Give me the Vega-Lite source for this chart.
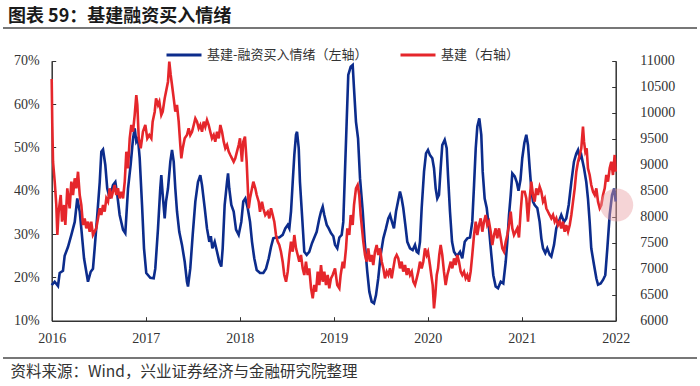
{
"$schema": "https://vega.github.io/schema/vega-lite/v6.json",
"width": 694,
"height": 330,
"autosize": {"type": "none"},
"padding": {"left": 3, "top": 28, "right": 3, "bottom": 28},
"background": "#ffffff",
"title": {"text": "图表 59：基建融资买入情绪", "anchor": "start", "frame": "group", "dx": 5, "dy": 19, "offset": 3, "baseline": "bottom", "font": "Noto Sans CJK SC", "fontSize": 18, "fontWeight": "bold", "color": "#1a1a1a"},
"config": {
  "view": {"stroke": "#777777", "strokeWidth": 2, "strokeDash": [694, 330, 694, 330]},
  "axis": {"grid": false, "domainColor": "#333333", "domainWidth": 1.5, "tickColor": "#333333", "tickWidth": 1, "tickSize": -4, "labelFont": "Liberation Serif", "labelFontSize": 14, "labelColor": "#333333"}
},
"datasets": {
"ref": [{"v":0.4},{"v":0.2}],
"hl": [{"t":2022.01,"v":8225}],
"blue": [
{"t":2016.000,"v":0.182},{"t":2016.032,"v":0.190},{"t":2016.067,"v":0.180},{"t":2016.085,"v":0.210},{"t":2016.120,"v":0.215},{"t":2016.138,"v":0.250},{"t":2016.173,"v":0.270},{"t":2016.209,"v":0.298},{"t":2016.245,"v":0.328},{"t":2016.272,"v":0.382},{"t":2016.298,"v":0.352},{"t":2016.315,"v":0.313},{"t":2016.344,"v":0.244},{"t":2016.368,"v":0.213},{"t":2016.386,"v":0.190},{"t":2016.415,"v":0.213},{"t":2016.439,"v":0.220},{"t":2016.457,"v":0.267},{"t":2016.485,"v":0.344},{"t":2016.511,"v":0.420},{"t":2016.528,"v":0.490},{"t":2016.546,"v":0.495},{"t":2016.570,"v":0.460},{"t":2016.591,"v":0.405},{"t":2016.617,"v":0.382},{"t":2016.652,"v":0.413},{"t":2016.677,"v":0.420},{"t":2016.698,"v":0.390},{"t":2016.723,"v":0.344},{"t":2016.759,"v":0.310},{"t":2016.783,"v":0.302},{"t":2016.812,"v":0.405},{"t":2016.840,"v":0.460},{"t":2016.865,"v":0.520},{"t":2016.883,"v":0.544},{"t":2016.900,"v":0.513},{"t":2016.918,"v":0.520},{"t":2016.936,"v":0.475},{"t":2016.961,"v":0.367},{"t":2016.982,"v":0.267},{"t":2017.006,"v":0.210},{"t":2017.049,"v":0.199},{"t":2017.085,"v":0.198},{"t":2017.102,"v":0.220},{"t":2017.131,"v":0.313},{"t":2017.155,"v":0.405},{"t":2017.166,"v":0.436},{"t":2017.181,"v":0.390},{"t":2017.202,"v":0.336},{"t":2017.216,"v":0.375},{"t":2017.237,"v":0.405},{"t":2017.262,"v":0.467},{"t":2017.280,"v":0.494},{"t":2017.298,"v":0.467},{"t":2017.315,"v":0.405},{"t":2017.333,"v":0.352},{"t":2017.357,"v":0.305},{"t":2017.386,"v":0.275},{"t":2017.415,"v":0.236},{"t":2017.439,"v":0.190},{"t":2017.450,"v":0.179},{"t":2017.474,"v":0.220},{"t":2017.500,"v":0.298},{"t":2017.528,"v":0.375},{"t":2017.556,"v":0.420},{"t":2017.581,"v":0.436},{"t":2017.599,"v":0.413},{"t":2017.628,"v":0.360},{"t":2017.652,"v":0.313},{"t":2017.677,"v":0.282},{"t":2017.693,"v":0.295},{"t":2017.709,"v":0.267},{"t":2017.734,"v":0.282},{"t":2017.759,"v":0.259},{"t":2017.783,"v":0.236},{"t":2017.804,"v":0.225},{"t":2017.819,"v":0.267},{"t":2017.840,"v":0.367},{"t":2017.865,"v":0.420},{"t":2017.876,"v":0.440},{"t":2017.889,"v":0.405},{"t":2017.911,"v":0.367},{"t":2017.936,"v":0.352},{"t":2017.961,"v":0.310},{"t":2017.989,"v":0.298},{"t":2018.017,"v":0.328},{"t":2018.038,"v":0.375},{"t":2018.060,"v":0.382},{"t":2018.085,"v":0.360},{"t":2018.110,"v":0.328},{"t":2018.131,"v":0.282},{"t":2018.155,"v":0.244},{"t":2018.181,"v":0.217},{"t":2018.216,"v":0.210},{"t":2018.251,"v":0.210},{"t":2018.280,"v":0.220},{"t":2018.309,"v":0.244},{"t":2018.333,"v":0.270},{"t":2018.357,"v":0.290},{"t":2018.386,"v":0.292},{"t":2018.421,"v":0.292},{"t":2018.457,"v":0.298},{"t":2018.485,"v":0.313},{"t":2018.511,"v":0.321},{"t":2018.528,"v":0.313},{"t":2018.546,"v":0.352},{"t":2018.564,"v":0.420},{"t":2018.581,"v":0.482},{"t":2018.599,"v":0.529},{"t":2018.610,"v":0.536},{"t":2018.628,"v":0.498},{"t":2018.641,"v":0.420},{"t":2018.663,"v":0.344},{"t":2018.687,"v":0.259},{"t":2018.713,"v":0.252},{"t":2018.740,"v":0.259},{"t":2018.769,"v":0.279},{"t":2018.794,"v":0.292},{"t":2018.819,"v":0.305},{"t":2018.847,"v":0.336},{"t":2018.865,"v":0.352},{"t":2018.883,"v":0.363},{"t":2018.900,"v":0.344},{"t":2018.926,"v":0.321},{"t":2018.947,"v":0.313},{"t":2018.971,"v":0.302},{"t":2018.996,"v":0.295},{"t":2019.014,"v":0.275},{"t":2019.038,"v":0.267},{"t":2019.060,"v":0.292},{"t":2019.085,"v":0.298},{"t":2019.102,"v":0.328},{"t":2019.120,"v":0.444},{"t":2019.138,"v":0.559},{"t":2019.155,"v":0.667},{"t":2019.181,"v":0.686},{"t":2019.202,"v":0.690},{"t":2019.216,"v":0.636},{"t":2019.237,"v":0.559},{"t":2019.259,"v":0.521},{"t":2019.280,"v":0.429},{"t":2019.309,"v":0.352},{"t":2019.330,"v":0.282},{"t":2019.357,"v":0.213},{"t":2019.379,"v":0.167},{"t":2019.404,"v":0.144},{"t":2019.429,"v":0.140},{"t":2019.450,"v":0.159},{"t":2019.474,"v":0.198},{"t":2019.500,"v":0.252},{"t":2019.528,"v":0.290},{"t":2019.556,"v":0.313},{"t":2019.581,"v":0.336},{"t":2019.599,"v":0.344},{"t":2019.620,"v":0.328},{"t":2019.641,"v":0.313},{"t":2019.663,"v":0.352},{"t":2019.684,"v":0.375},{"t":2019.705,"v":0.398},{"t":2019.723,"v":0.382},{"t":2019.740,"v":0.360},{"t":2019.762,"v":0.321},{"t":2019.783,"v":0.282},{"t":2019.812,"v":0.267},{"t":2019.840,"v":0.263},{"t":2019.865,"v":0.275},{"t":2019.883,"v":0.259},{"t":2019.900,"v":0.256},{"t":2019.918,"v":0.282},{"t":2019.936,"v":0.360},{"t":2019.961,"v":0.444},{"t":2019.982,"v":0.486},{"t":2020.003,"v":0.494},{"t":2020.024,"v":0.482},{"t":2020.049,"v":0.475},{"t":2020.067,"v":0.452},{"t":2020.085,"v":0.405},{"t":2020.102,"v":0.382},{"t":2020.120,"v":0.390},{"t":2020.138,"v":0.452},{"t":2020.155,"v":0.505},{"t":2020.181,"v":0.517},{"t":2020.202,"v":0.498},{"t":2020.216,"v":0.436},{"t":2020.237,"v":0.352},{"t":2020.259,"v":0.282},{"t":2020.280,"v":0.259},{"t":2020.301,"v":0.252},{"t":2020.322,"v":0.252},{"t":2020.344,"v":0.259},{"t":2020.368,"v":0.244},{"t":2020.394,"v":0.282},{"t":2020.421,"v":0.290},{"t":2020.450,"v":0.292},{"t":2020.474,"v":0.328},{"t":2020.493,"v":0.413},{"t":2020.511,"v":0.498},{"t":2020.528,"v":0.548},{"t":2020.549,"v":0.567},{"t":2020.570,"v":0.529},{"t":2020.585,"v":0.444},{"t":2020.606,"v":0.382},{"t":2020.628,"v":0.360},{"t":2020.652,"v":0.313},{"t":2020.677,"v":0.252},{"t":2020.698,"v":0.205},{"t":2020.723,"v":0.179},{"t":2020.748,"v":0.175},{"t":2020.777,"v":0.190},{"t":2020.804,"v":0.186},{"t":2020.830,"v":0.236},{"t":2020.847,"v":0.282},{"t":2020.865,"v":0.344},{"t":2020.883,"v":0.390},{"t":2020.900,"v":0.440},{"t":2020.926,"v":0.433},{"t":2020.947,"v":0.420},{"t":2020.966,"v":0.400},{"t":2020.987,"v":0.425},{"t":2021.006,"v":0.475},{"t":2021.028,"v":0.510},{"t":2021.049,"v":0.529},{"t":2021.067,"v":0.505},{"t":2021.085,"v":0.452},{"t":2021.102,"v":0.405},{"t":2021.120,"v":0.375},{"t":2021.138,"v":0.367},{"t":2021.166,"v":0.360},{"t":2021.191,"v":0.328},{"t":2021.209,"v":0.290},{"t":2021.227,"v":0.267},{"t":2021.251,"v":0.256},{"t":2021.272,"v":0.267},{"t":2021.298,"v":0.252},{"t":2021.315,"v":0.248},{"t":2021.344,"v":0.275},{"t":2021.368,"v":0.313},{"t":2021.394,"v":0.328},{"t":2021.421,"v":0.344},{"t":2021.450,"v":0.328},{"t":2021.474,"v":0.336},{"t":2021.500,"v":0.367},{"t":2021.528,"v":0.420},{"t":2021.556,"v":0.467},{"t":2021.581,"v":0.486},{"t":2021.599,"v":0.494},{"t":2021.617,"v":0.475},{"t":2021.634,"v":0.482},{"t":2021.663,"v":0.452},{"t":2021.687,"v":0.420},{"t":2021.705,"v":0.382},{"t":2021.723,"v":0.328},{"t":2021.740,"v":0.267},{"t":2021.769,"v":0.229},{"t":2021.794,"v":0.198},{"t":2021.812,"v":0.183},{"t":2021.840,"v":0.186},{"t":2021.865,"v":0.194},{"t":2021.889,"v":0.205},{"t":2021.911,"v":0.267},{"t":2021.936,"v":0.344},{"t":2021.961,"v":0.390},{"t":2021.983,"v":0.405},{"t":2022.000,"v":0.375}
],
"red": [
{"t":2016.000,"v":10650},{"t":2016.006,"v":9800},{"t":2016.014,"v":9058},{"t":2016.032,"v":8673},{"t":2016.049,"v":8225},{"t":2016.060,"v":7648},{"t":2016.074,"v":8096},{"t":2016.096,"v":8417},{"t":2016.110,"v":7904},{"t":2016.131,"v":8225},{"t":2016.145,"v":7840},{"t":2016.166,"v":8546},{"t":2016.191,"v":8160},{"t":2016.209,"v":8673},{"t":2016.227,"v":8417},{"t":2016.245,"v":8738},{"t":2016.262,"v":8546},{"t":2016.280,"v":8865},{"t":2016.298,"v":8417},{"t":2016.315,"v":8225},{"t":2016.333,"v":7840},{"t":2016.351,"v":7968},{"t":2016.368,"v":7776},{"t":2016.386,"v":7904},{"t":2016.404,"v":7712},{"t":2016.421,"v":7904},{"t":2016.439,"v":7648},{"t":2016.457,"v":7712},{"t":2016.474,"v":7776},{"t":2016.493,"v":7968},{"t":2016.511,"v":8161},{"t":2016.528,"v":8032},{"t":2016.546,"v":8225},{"t":2016.564,"v":8096},{"t":2016.581,"v":8353},{"t":2016.599,"v":8289},{"t":2016.617,"v":8546},{"t":2016.634,"v":8353},{"t":2016.652,"v":8481},{"t":2016.670,"v":8610},{"t":2016.687,"v":8417},{"t":2016.705,"v":8546},{"t":2016.723,"v":8353},{"t":2016.740,"v":8481},{"t":2016.759,"v":8353},{"t":2016.777,"v":8673},{"t":2016.794,"v":9250},{"t":2016.812,"v":8930},{"t":2016.830,"v":9507},{"t":2016.847,"v":9763},{"t":2016.865,"v":9635},{"t":2016.883,"v":9956},{"t":2016.900,"v":10340},{"t":2016.911,"v":10150},{"t":2016.926,"v":9507},{"t":2016.947,"v":9315},{"t":2016.971,"v":9635},{"t":2016.996,"v":9763},{"t":2017.017,"v":9507},{"t":2017.038,"v":9571},{"t":2017.060,"v":9507},{"t":2017.074,"v":9827},{"t":2017.096,"v":10019},{"t":2017.110,"v":10276},{"t":2017.131,"v":10148},{"t":2017.145,"v":10212},{"t":2017.166,"v":9956},{"t":2017.181,"v":10019},{"t":2017.202,"v":10276},{"t":2017.216,"v":10404},{"t":2017.237,"v":10596},{"t":2017.251,"v":10981},{"t":2017.266,"v":10725},{"t":2017.280,"v":10532},{"t":2017.298,"v":10276},{"t":2017.315,"v":10019},{"t":2017.333,"v":10148},{"t":2017.351,"v":9827},{"t":2017.368,"v":9379},{"t":2017.379,"v":9123},{"t":2017.394,"v":9315},{"t":2017.415,"v":9507},{"t":2017.439,"v":9571},{"t":2017.457,"v":9699},{"t":2017.474,"v":9571},{"t":2017.493,"v":9635},{"t":2017.511,"v":9763},{"t":2017.528,"v":9891},{"t":2017.546,"v":9827},{"t":2017.564,"v":9699},{"t":2017.581,"v":9763},{"t":2017.599,"v":9635},{"t":2017.617,"v":9827},{"t":2017.634,"v":9731},{"t":2017.652,"v":9859},{"t":2017.670,"v":9763},{"t":2017.687,"v":9635},{"t":2017.705,"v":9507},{"t":2017.723,"v":9571},{"t":2017.740,"v":9443},{"t":2017.759,"v":9635},{"t":2017.777,"v":9507},{"t":2017.794,"v":9763},{"t":2017.812,"v":9635},{"t":2017.830,"v":9443},{"t":2017.847,"v":9315},{"t":2017.865,"v":9379},{"t":2017.883,"v":9251},{"t":2017.900,"v":9187},{"t":2017.918,"v":9123},{"t":2017.936,"v":9058},{"t":2017.953,"v":9123},{"t":2017.971,"v":9251},{"t":2017.989,"v":9379},{"t":2018.003,"v":9507},{"t":2018.024,"v":9058},{"t":2018.038,"v":9443},{"t":2018.056,"v":9539},{"t":2018.074,"v":9058},{"t":2018.085,"v":8610},{"t":2018.096,"v":8161},{"t":2018.110,"v":8353},{"t":2018.131,"v":8546},{"t":2018.145,"v":8673},{"t":2018.166,"v":8546},{"t":2018.181,"v":8417},{"t":2018.202,"v":8289},{"t":2018.216,"v":8096},{"t":2018.237,"v":8289},{"t":2018.251,"v":8161},{"t":2018.272,"v":8032},{"t":2018.298,"v":8096},{"t":2018.315,"v":7968},{"t":2018.333,"v":8161},{"t":2018.351,"v":8032},{"t":2018.368,"v":7904},{"t":2018.386,"v":7648},{"t":2018.404,"v":7520},{"t":2018.421,"v":7456},{"t":2018.439,"v":7327},{"t":2018.457,"v":7135},{"t":2018.474,"v":6879},{"t":2018.493,"v":6750},{"t":2018.511,"v":6943},{"t":2018.528,"v":7263},{"t":2018.546,"v":7520},{"t":2018.564,"v":7327},{"t":2018.581,"v":7648},{"t":2018.599,"v":7392},{"t":2018.617,"v":7263},{"t":2018.634,"v":7135},{"t":2018.652,"v":7263},{"t":2018.670,"v":7007},{"t":2018.687,"v":6879},{"t":2018.705,"v":7135},{"t":2018.723,"v":6879},{"t":2018.740,"v":7007},{"t":2018.759,"v":6622},{"t":2018.777,"v":6430},{"t":2018.794,"v":6686},{"t":2018.812,"v":6558},{"t":2018.830,"v":6943},{"t":2018.847,"v":6686},{"t":2018.865,"v":7071},{"t":2018.883,"v":6750},{"t":2018.900,"v":6943},{"t":2018.918,"v":6686},{"t":2018.936,"v":6879},{"t":2018.953,"v":6622},{"t":2018.971,"v":6815},{"t":2018.989,"v":6879},{"t":2019.014,"v":7007},{"t":2019.038,"v":6686},{"t":2019.060,"v":6622},{"t":2019.074,"v":6879},{"t":2019.096,"v":7135},{"t":2019.110,"v":7007},{"t":2019.131,"v":7392},{"t":2019.145,"v":7776},{"t":2019.166,"v":7648},{"t":2019.181,"v":8032},{"t":2019.202,"v":7840},{"t":2019.216,"v":8225},{"t":2019.237,"v":8546},{"t":2019.255,"v":8610},{"t":2019.272,"v":8417},{"t":2019.287,"v":8032},{"t":2019.301,"v":7776},{"t":2019.315,"v":7520},{"t":2019.333,"v":7263},{"t":2019.351,"v":7135},{"t":2019.368,"v":7392},{"t":2019.386,"v":7135},{"t":2019.404,"v":7263},{"t":2019.421,"v":7071},{"t":2019.439,"v":7327},{"t":2019.457,"v":7456},{"t":2019.474,"v":7263},{"t":2019.493,"v":7392},{"t":2019.511,"v":7135},{"t":2019.528,"v":7007},{"t":2019.546,"v":6815},{"t":2019.564,"v":6943},{"t":2019.581,"v":6879},{"t":2019.599,"v":7007},{"t":2019.617,"v":6815},{"t":2019.634,"v":7007},{"t":2019.652,"v":7199},{"t":2019.670,"v":7263},{"t":2019.687,"v":7199},{"t":2019.705,"v":7007},{"t":2019.723,"v":7135},{"t":2019.740,"v":6943},{"t":2019.759,"v":7071},{"t":2019.777,"v":6879},{"t":2019.794,"v":7007},{"t":2019.812,"v":6879},{"t":2019.830,"v":6943},{"t":2019.847,"v":6750},{"t":2019.865,"v":6686},{"t":2019.883,"v":6815},{"t":2019.900,"v":6943},{"t":2019.918,"v":7135},{"t":2019.936,"v":7007},{"t":2019.953,"v":7135},{"t":2019.971,"v":7392},{"t":2019.989,"v":7263},{"t":2020.003,"v":7327},{"t":2020.024,"v":7071},{"t":2020.038,"v":6879},{"t":2020.053,"v":6686},{"t":2020.067,"v":6238},{"t":2020.081,"v":6494},{"t":2020.096,"v":6879},{"t":2020.110,"v":7007},{"t":2020.123,"v":7263},{"t":2020.138,"v":7456},{"t":2020.155,"v":7263},{"t":2020.173,"v":6943},{"t":2020.191,"v":6686},{"t":2020.209,"v":6879},{"t":2020.227,"v":7007},{"t":2020.245,"v":7135},{"t":2020.262,"v":7007},{"t":2020.280,"v":7199},{"t":2020.298,"v":7071},{"t":2020.315,"v":7263},{"t":2020.333,"v":7135},{"t":2020.351,"v":6943},{"t":2020.368,"v":6879},{"t":2020.386,"v":6943},{"t":2020.404,"v":6815},{"t":2020.421,"v":6879},{"t":2020.439,"v":6750},{"t":2020.457,"v":6943},{"t":2020.474,"v":7263},{"t":2020.493,"v":7648},{"t":2020.511,"v":7904},{"t":2020.528,"v":7648},{"t":2020.546,"v":7840},{"t":2020.564,"v":7968},{"t":2020.581,"v":7712},{"t":2020.599,"v":7904},{"t":2020.617,"v":8032},{"t":2020.634,"v":7840},{"t":2020.652,"v":7904},{"t":2020.670,"v":7712},{"t":2020.687,"v":7456},{"t":2020.705,"v":7648},{"t":2020.723,"v":7776},{"t":2020.740,"v":7584},{"t":2020.759,"v":7776},{"t":2020.777,"v":7584},{"t":2020.794,"v":7392},{"t":2020.812,"v":7327},{"t":2020.830,"v":7520},{"t":2020.847,"v":7648},{"t":2020.865,"v":7840},{"t":2020.883,"v":8096},{"t":2020.900,"v":7776},{"t":2020.918,"v":7648},{"t":2020.936,"v":7712},{"t":2020.953,"v":7776},{"t":2020.971,"v":7600},{"t":2020.989,"v":8100},{"t":2021.006,"v":8481},{"t":2021.032,"v":8481},{"t":2021.049,"v":8353},{"t":2021.067,"v":7904},{"t":2021.085,"v":8353},{"t":2021.102,"v":8673},{"t":2021.120,"v":8417},{"t":2021.138,"v":8289},{"t":2021.155,"v":8546},{"t":2021.173,"v":8417},{"t":2021.191,"v":8578},{"t":2021.209,"v":8481},{"t":2021.227,"v":8289},{"t":2021.245,"v":8353},{"t":2021.262,"v":8161},{"t":2021.280,"v":8096},{"t":2021.298,"v":8032},{"t":2021.315,"v":7968},{"t":2021.333,"v":8032},{"t":2021.351,"v":7904},{"t":2021.368,"v":7968},{"t":2021.386,"v":7840},{"t":2021.404,"v":7904},{"t":2021.421,"v":7776},{"t":2021.439,"v":7904},{"t":2021.457,"v":7712},{"t":2021.474,"v":7840},{"t":2021.493,"v":7712},{"t":2021.511,"v":7840},{"t":2021.528,"v":8032},{"t":2021.546,"v":8289},{"t":2021.564,"v":8546},{"t":2021.581,"v":8866},{"t":2021.599,"v":9058},{"t":2021.617,"v":9187},{"t":2021.634,"v":9315},{"t":2021.652,"v":9731},{"t":2021.663,"v":9443},{"t":2021.677,"v":9251},{"t":2021.691,"v":9315},{"t":2021.705,"v":8930},{"t":2021.723,"v":8802},{"t":2021.740,"v":8610},{"t":2021.759,"v":8481},{"t":2021.777,"v":8417},{"t":2021.794,"v":8546},{"t":2021.812,"v":8289},{"t":2021.830,"v":8161},{"t":2021.847,"v":8225},{"t":2021.865,"v":8417},{"t":2021.883,"v":8546},{"t":2021.900,"v":8802},{"t":2021.918,"v":8673},{"t":2021.936,"v":8930},{"t":2021.953,"v":9058},{"t":2021.971,"v":8802},{"t":2021.989,"v":9187},{"t":2022.000,"v":8866}
]
},
"encoding": {
  "x": {"field": "t", "type": "quantitative",
    "scale": {"domain": [2016, 2022], "range": [48.7, 612.7], "nice": false, "zero": false},
    "axis": {"values": [2016, 2017, 2018, 2019, 2020, 2021, 2022], "format": "d", "offset": -37.3, "labelPadding": 14.5, "labelFlush": false, "labelOverlap": false,
      "title": "资料来源：Wind，兴业证券经济与金融研究院整理", "titleX": 7, "titleY": 51, "titleAlign": "left", "titleBaseline": "middle", "titleFont": "Noto Sans CJK SC", "titleFontSize": 15.5, "titleFontWeight": "normal", "titleColor": "#333333"}}
},
"layer": [
  {
    "encoding": {
      "y": {"field": "v", "type": "quantitative",
        "scale": {"domain": [0.1, 0.7], "range": [292.7, 32.7], "nice": false, "zero": false},
        "axis": {"orient": "left", "offset": -48.7, "values": [0.1, 0.2, 0.3, 0.4, 0.5, 0.6, 0.7], "format": ".0%", "title": null, "labelPadding": 16.5}}
    },
    "layer": [
      {"data": {"name": "ref"}, "mark": {"type": "rule", "color": "#8c8c8c", "strokeWidth": 2.5, "strokeDash": [8, 5]},
       "encoding": {"x": {"datum": 2016.02, "type": "quantitative"}, "x2": {"datum": 2021.98}}},
      {"data": {"name": "blue"}, "mark": {"type": "line", "strokeWidth": 2.6},
       "encoding": {"color": {"datum": "基建-融资买入情绪（左轴）", "type": "nominal",
         "scale": {"domain": ["基建-融资买入情绪（左轴）", "基建（右轴）"], "range": ["#0c2c8c", "#e5262b"]},
         "legend": {"title": null, "orient": "none", "legendX": 162, "legendY": 8, "direction": "horizontal", "symbolType": "stroke", "symbolSize": 1225, "symbolStrokeWidth": 3, "labelFont": "Noto Sans CJK SC", "labelFontSize": 13, "labelColor": "#333333", "labelLimit": 400, "columnPadding": 26, "labelOffset": 4}}}}
    ]
  },
  {
    "encoding": {
      "y": {"field": "v", "type": "quantitative",
        "scale": {"domain": [6000, 11000], "range": [292.7, 32.7], "nice": false, "zero": false},
        "axis": {"orient": "right", "offset": -81.3, "values": [6000, 6500, 7000, 7500, 8000, 8500, 9000, 9500, 10000, 10500, 11000], "format": "d", "title": null, "labelPadding": 28}}
    },
    "layer": [
      {"data": {"name": "red"}, "mark": {"type": "line", "strokeWidth": 2.6},
       "encoding": {"color": {"datum": "基建（右轴）", "type": "nominal"}}},
      {"data": {"name": "hl"}, "mark": {"type": "point", "filled": true, "size": 1100, "color": "#e8a0a4", "opacity": 0.45, "strokeWidth": 0}}
    ]
  }
],
"resolve": {"scale": {"y": "independent"}}
}
